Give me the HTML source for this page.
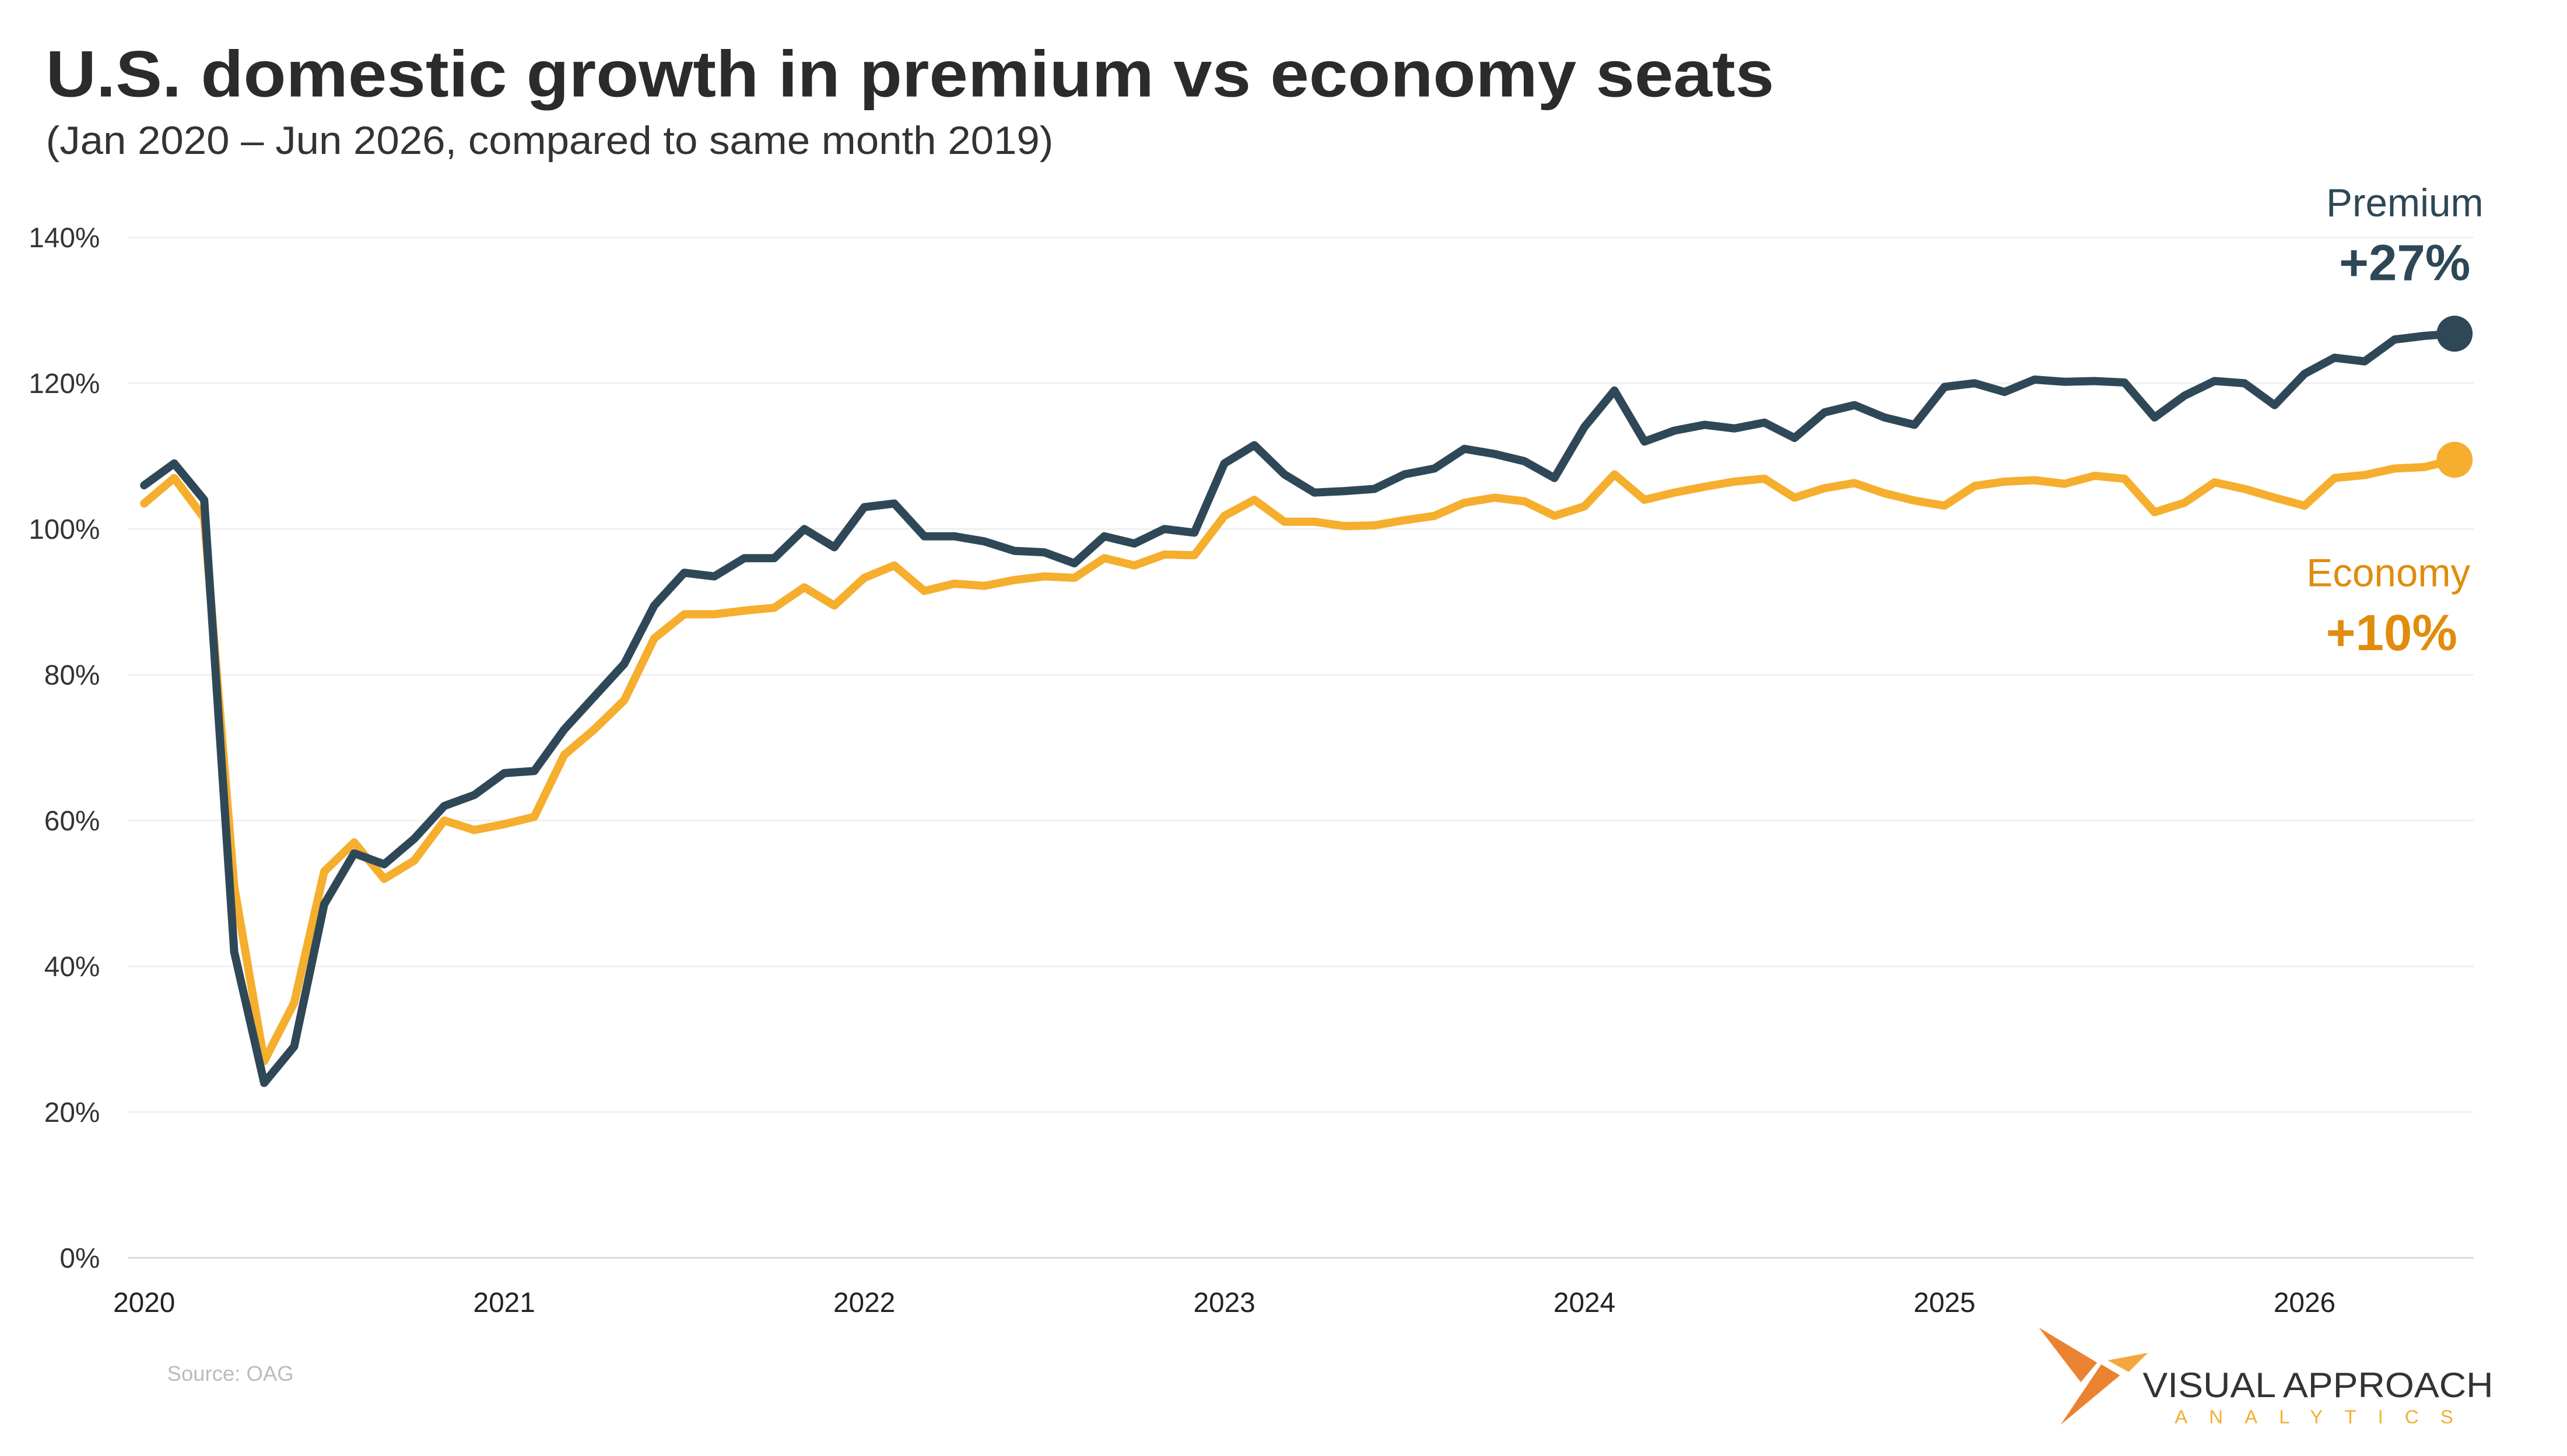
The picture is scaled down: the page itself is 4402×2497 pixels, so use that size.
<!DOCTYPE html>
<html><head><meta charset="utf-8"><style>
html,body{margin:0;padding:0;background:#fff;}
svg{display:block;font-family:"Liberation Sans",sans-serif;}
</style></head><body>
<svg id="chart" width="4402" height="2497" viewBox="0 0 1567 889" preserveAspectRatio="none" xmlns="http://www.w3.org/2000/svg">
<rect width="1567" height="889" fill="#fff"/>
<text x="28" y="59" font-size="40" font-weight="bold" fill="#2b2b2b" textLength="1055" lengthAdjust="spacingAndGlyphs">U.S. domestic growth in premium vs economy seats</text>
<text x="28" y="94" font-size="24" fill="#333" textLength="615" lengthAdjust="spacingAndGlyphs">(Jan 2020 – Jun 2026, compared to same month 2019)</text>
<g id="grid"></g>
<g id="yticks"></g>
<g id="xticks"></g>
<g id="series"></g>
<text x="1516" y="132" font-size="24" fill="#2e4756" text-anchor="end">Premium</text>
<text x="1508" y="171" font-size="31" font-weight="bold" fill="#2e4756" text-anchor="end">+27%</text>
<text x="1508" y="358" font-size="24" fill="#e08c0d" text-anchor="end">Economy</text>
<text x="1500" y="397" font-size="31" font-weight="bold" fill="#e08c0d" text-anchor="end">+10%</text>
<text x="102" y="843" font-size="13" fill="#bbb">Source: OAG</text>
<g>
<polygon points="1244.6,810.6 1280.2,832 1270.2,843.9" fill="#eb8232"/>
<polygon points="1282.7,833 1294.1,839.8 1257.8,870" fill="#eb8232"/>
<polygon points="1286.6,830.6 1311.2,826 1299.4,837.7" fill="#f3a73d"/>
<text x="1308" y="853" font-size="21.5" fill="#333" textLength="214" lengthAdjust="spacingAndGlyphs">VISUAL APPROACH</text>
<text x="1327.5" y="869" font-size="11.7" fill="#f5ae2d" textLength="170" lengthAdjust="spacing">ANALYTICS</text>
</g>
</svg>
<script>
const months = 78; // Jan 2020 .. Jun 2026
const yTicks = [0,20,40,60,80,100,120,140];
const xYears = [2020,2021,2022,2023,2024,2025,2026];
const premium = [106,109,104,42,24,29,48.5,55.5,54,57.5,62,63.5,
66.5,66.8,72.5,77,81.5,89.5,94,93.5,96,96,100,97.5,
103,103.5,99,99,98.3,97,96.8,95.3,99,98,100,99.5,
109,111.5,107.5,105,105.2,105.5,107.5,108.3,111,110.3,109.3,107,
114,119,112,113.5,114.3,113.8,114.6,112.5,116,117,115.3,114.3,
119.5,120,118.8,120.5,120.2,120.3,120.1,115.3,118.3,120.3,120,117,
121.3,123.5,123,126,126.5,126.8];
const economy = [103.5,107,101.5,51,27,35,53,57,52,54.5,60,58.7,
59.5,60.5,69,72.5,76.5,85,88.3,88.3,88.8,89.2,92,89.5,
93.3,95,91.5,92.5,92.2,93,93.5,93.3,96,95,96.5,96.4,
101.8,104,101,101,100.4,100.5,101.2,101.8,103.6,104.3,103.8,101.8,
103.1,107.5,104,105,105.8,106.5,106.9,104.3,105.6,106.3,104.9,103.9,
103.2,105.9,106.5,106.7,106.2,107.3,106.9,102.3,103.6,106.4,105.5,104.3,
103.2,107,107.4,108.3,108.5,109.5];
const NS="http://www.w3.org/2000/svg";
const X0=88, MSTEP=219.8/12, Y0=768, YPER=(768-145)/140;
function xScale(i){return X0+i*MSTEP;}
function yScale(v){return Y0-v*YPER;}
function mk(tag,attrs,parent){const e=document.createElementNS(NS,tag);for(const k in attrs)e.setAttribute(k,attrs[k]);parent.appendChild(e);return e;}
const grid=document.getElementById('grid'), yt=document.getElementById('yticks'), xt=document.getElementById('xticks'), se=document.getElementById('series');
yTicks.forEach(v=>{
  const l=mk('line',{x1:78,x2:1510,y1:yScale(v),y2:yScale(v),stroke:v===0?'#d8d8d8':'#efefef','stroke-width':1},grid);
  
  
  const t=mk('text',{x:61,y:yScale(v)+6,'font-size':17,fill:'#333','text-anchor':'end'},yt);
  t.textContent=v+'%';
  
  
});
xYears.forEach((y,i)=>{
  const t=mk('text',{x:xScale(i*12),y:801,'font-size':17,fill:'#222','text-anchor':'middle'},xt);
  t.textContent=y;
  
  
});
function drawLine(data,color,name){
  const pts=data.map((v,i)=>xScale(i).toFixed(2)+','+yScale(v).toFixed(2)).join(' ');
  const p=mk('polyline',{points:pts,fill:'none',stroke:color,'stroke-width':5,'stroke-linejoin':'round','stroke-linecap':'round'},se);
  
  
  const n=data.length-1;
  const c=mk('circle',{cx:xScale(n),cy:yScale(data[n]),r:11,fill:color},se);
  
  
}
drawLine(economy,'#f5ae2d','economy');
drawLine(premium,'#2f4858','premium');
</script>
</body></html>
